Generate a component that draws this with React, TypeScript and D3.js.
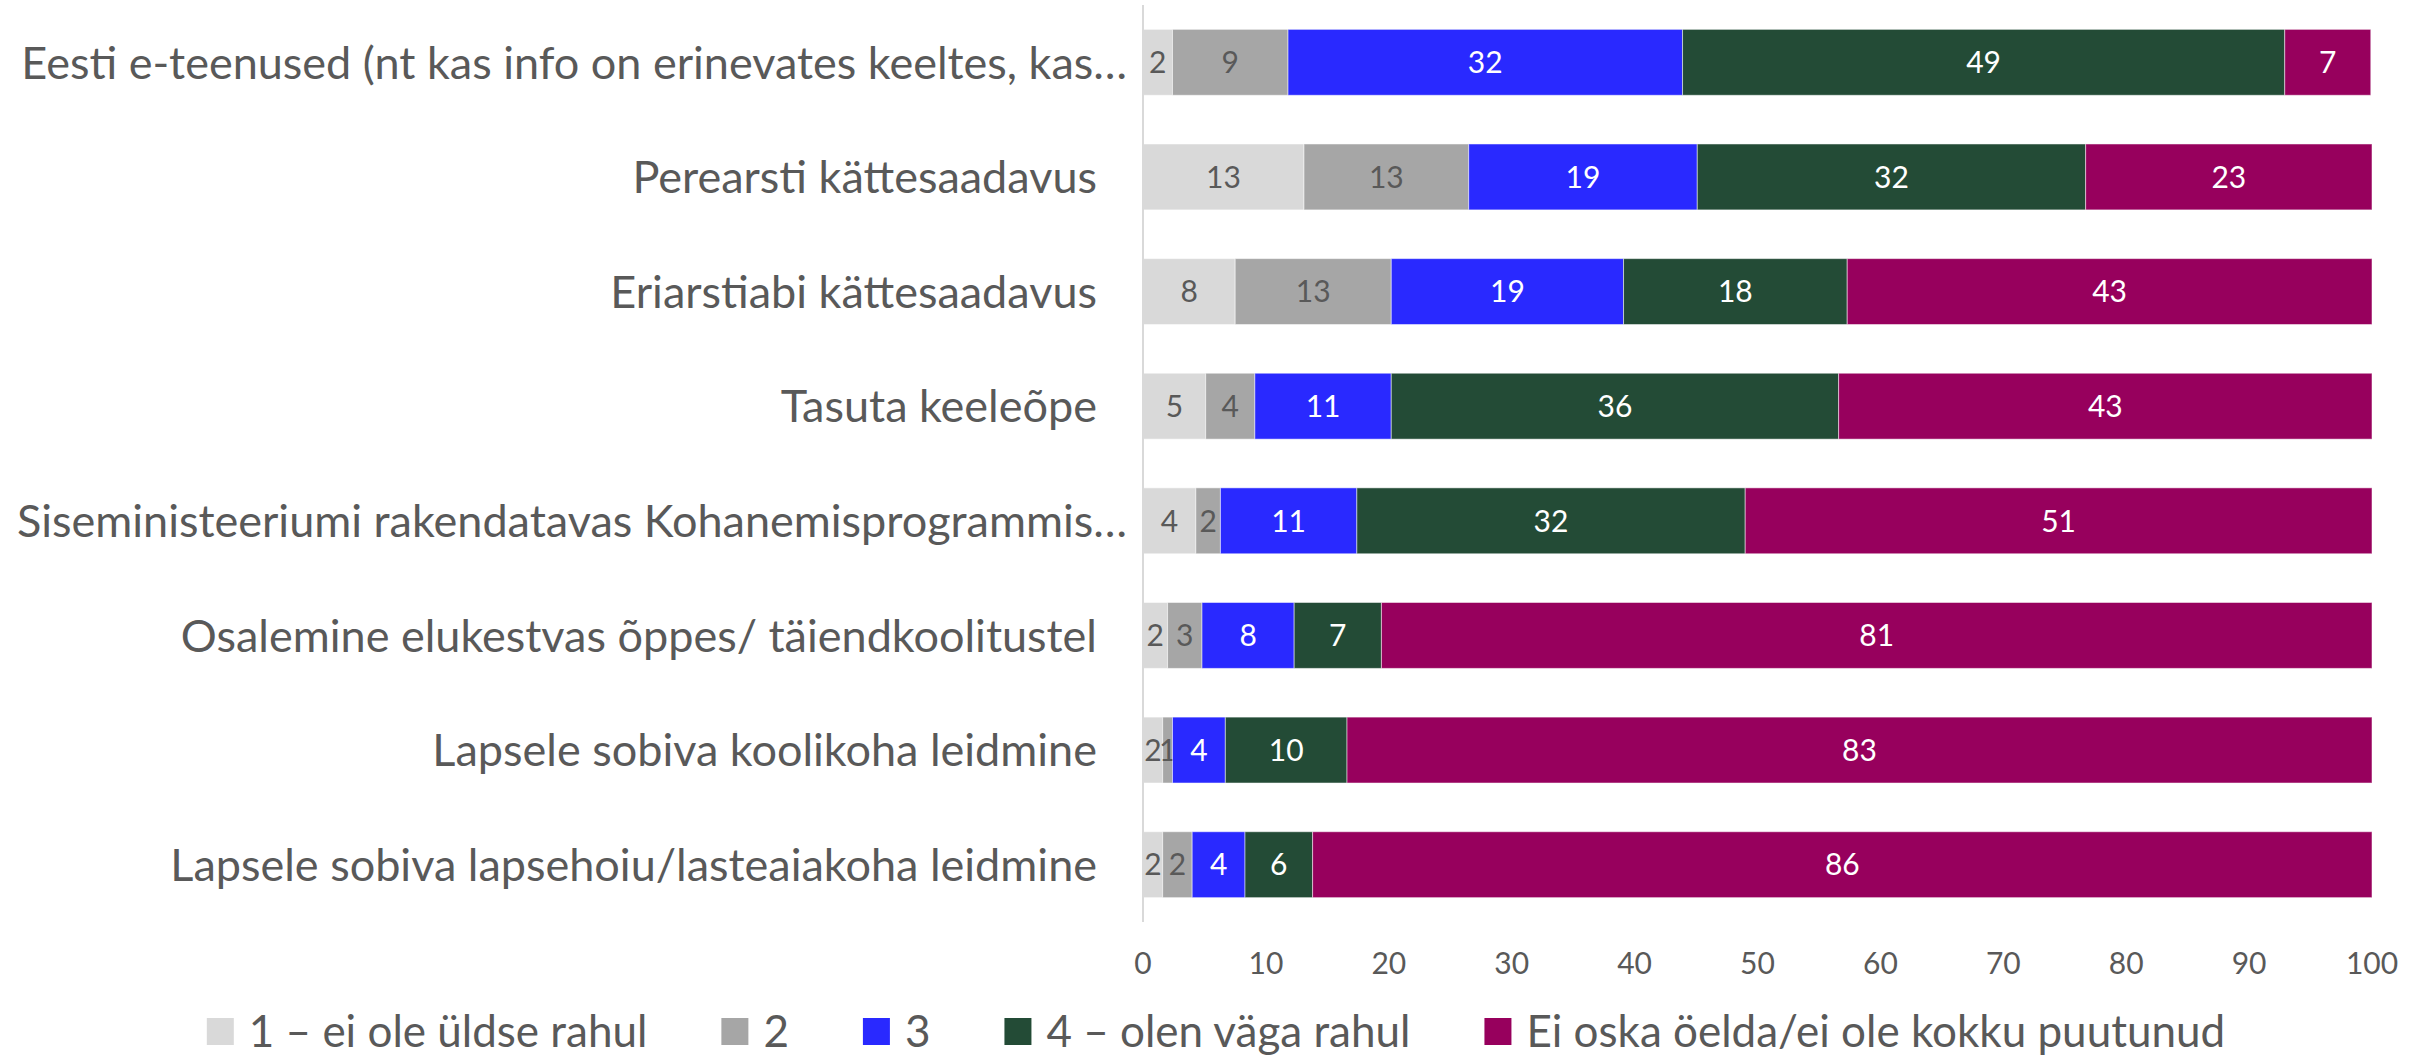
import React, { useEffect, useRef } from 'react';
import * as d3 from 'd3';

const categories = [
  'Eesti e-teenused (nt kas info on erinevates keeltes, kas…',
  'Perearsti kättesaadavus',
  'Eriarstiabi kättesaadavus',
  'Tasuta keeleõpe',
  'Siseministeeriumi rakendatavas Kohanemisprogrammis…',
  'Osalemine elukestvas õppes/ täiendkoolitustel',
  'Lapsele sobiva koolikoha leidmine',
  'Lapsele sobiva lapsehoiu/lasteaiakoha leidmine',
];

const seriesNames = [
  '1 – ei ole üldse rahul',
  '2',
  '3',
  '4 – olen väga rahul',
  'Ei oska öelda/ei ole kokku puutunud',
];

// one array per answer option, in category order
const rating1 = [2.4, 13.1, 7.5, 5.1, 4.3, 2.0, 1.6, 1.6];
const rating2 = [9.4, 13.4, 12.7, 4.0, 2.0, 2.8, 0.8, 2.4];
const rating3 = [32.1, 18.6, 18.9, 11.1, 11.1, 7.5, 4.3, 4.3];
const rating4 = [49.0, 31.6, 18.2, 36.4, 31.6, 7.1, 9.9, 5.5];
const dontKnow = [7.0, 23.3, 42.7, 43.4, 51.0, 80.6, 83.4, 86.2];

const xTicks = [0, 10, 20, 30, 40, 50, 60, 70, 80, 90, 100];

const colors = ['#D9D9D9', '#A6A6A6', '#2929FF', '#234B36', '#97005D'];
const labelColors = ['#595959', '#595959', '#ffffff', '#ffffff', '#ffffff'];

const W = 2420;
const H = 1058;
const FONT = 'Lato, "Open Sans", sans-serif';
const TEXT = '#595959';

export default function App() {
  const svgRef = useRef<SVGSVGElement>(null);

  useEffect(() => {
    if (!svgRef.current) return;
    const svg = d3.select(svgRef.current);
    svg.selectAll('*').remove();

    const margin = { top: 5, right: 48, bottom: 136, left: 1143 };
    const series = [rating1, rating2, rating3, rating4, dontKnow];

    const rows = categories.map((name, i) => {
      const row: any = { name };
      series.forEach((s, k) => (row['s' + k] = s[i]));
      return row;
    });
    const keys = series.map((_, k) => 's' + k);
    const stacked = d3.stack().keys(keys)(rows);

    const x = d3.scaleLinear().domain([0, 100]).range([margin.left, W - margin.right]);
    const y = d3.scaleBand()
      .domain(categories)
      .range([margin.top, H - margin.bottom])
      .paddingInner(0.425)
      .paddingOuter(0.2125);

    // bars
    const layers = svg.append('g')
      .selectAll('g')
      .data(stacked)
      .join('g')
      .attr('fill', (_, k) => colors[k]);

    layers.selectAll('rect')
      .data(d => d)
      .join('rect')
      .attr('x', d => x(d[0]))
      .attr('y', d => y((d.data as any).name)!)
      .attr('width', d => x(d[1]) - x(d[0]))
      .attr('height', y.bandwidth())
      .attr('stroke', '#ffffff')
      .attr('stroke-opacity', 0.5)
      .attr('stroke-width', 1);

    // value labels
    layers.selectAll('text')
      .data(d => d)
      .join('text')
      .attr('x', d => (x(d[0]) + x(d[1])) / 2)
      .attr('y', d => y((d.data as any).name)! + y.bandwidth() / 2)
      .attr('dy', '0.36em')
      .attr('text-anchor', 'middle')
      .attr('font-family', FONT)
      .attr('font-size', 30)
      .attr('fill', function () {
        const k = stacked.indexOf(d3.select((this as any).parentNode).datum() as any);
        return labelColors[k];
      })
      .text(d => Math.round(d[1] - d[0]));

    // vertical axis line
    svg.append('line')
      .attr('x1', x(0))
      .attr('x2', x(0))
      .attr('y1', margin.top)
      .attr('y2', H - margin.bottom)
      .attr('stroke', '#D9D9D9')
      .attr('stroke-width', 2);

    // category labels (truncated ones run closer to the axis)
    svg.append('g')
      .selectAll('text')
      .data(categories)
      .join('text')
      .attr('x', d => x(0) - (d.endsWith('…') ? 16 : 46))
      .attr('y', d => y(d)! + y.bandwidth() / 2)
      .attr('dy', '0.36em')
      .attr('text-anchor', 'end')
      .attr('font-family', FONT)
      .attr('font-size', 45)
      .attr('fill', TEXT)
      .text(d => d);

    // x tick labels
    svg.append('g')
      .selectAll('text')
      .data(xTicks)
      .join('text')
      .attr('x', d => x(d))
      .attr('y', 963)
      .attr('dy', '0.36em')
      .attr('text-anchor', 'middle')
      .attr('font-family', FONT)
      .attr('font-size', 30)
      .attr('fill', TEXT)
      .text(d => d);

    // legend
    const legend = svg.append('g');
    const items = legend.selectAll('g')
      .data(seriesNames)
      .join('g');
    items.append('rect')
      .attr('width', 27)
      .attr('height', 27)
      .attr('y', 1018)
      .attr('fill', (_, k) => colors[k]);
    items.append('text')
      .attr('x', 42)
      .attr('y', 1031)
      .attr('dy', '0.36em')
      .attr('font-family', FONT)
      .attr('font-size', 44)
      .attr('fill', TEXT)
      .text(d => d);

    const gap = 74;
    const widths: number[] = [];
    items.each(function () {
      const t = d3.select(this).select('text').node() as SVGTextElement;
      widths.push(42 + t.getComputedTextLength());
    });
    const total = d3.sum(widths) + gap * (widths.length - 1);
    let cx = (W - total) / 2 + 6;
    items.attr('transform', (_, k) => {
      const tx = cx;
      cx += widths[k] + gap;
      return `translate(${tx},0)`;
    });
  }, []);

  return (
    <div style={{ position: 'absolute', left: 0, top: 0 }}>
      <svg ref={svgRef} width={W} height={H} style={{ display: 'block', background: '#fff' }}></svg>
    </div>
  );
}
